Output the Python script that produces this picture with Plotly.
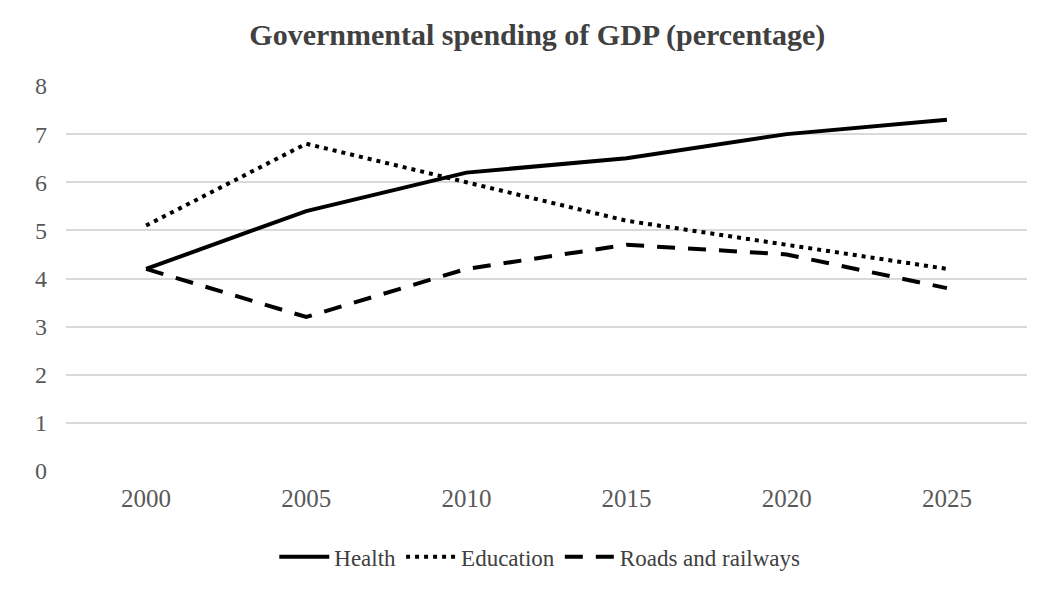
import plotly.graph_objects as go

years = ["2000", "2005", "2010", "2015", "2020", "2025"]
health = [4.2, 5.4, 6.2, 6.5, 7.0, 7.3]
education = [5.1, 6.8, 6.0, 5.2, 4.7, 4.2]
roads = [4.2, 3.2, 4.2, 4.7, 4.5, 3.8]

FONT = "Liberation Serif"

fig = go.Figure()
fig.add_trace(go.Scatter(x=years, y=health, mode="lines", name="Health",
                         line=dict(color="black", width=4)))
fig.add_trace(go.Scatter(x=years, y=education, mode="lines", name="Education",
                         line=dict(color="black", width=4, dash="4px,5px")))
fig.add_trace(go.Scatter(x=years, y=roads, mode="lines", name="Roads and railways",
                         line=dict(color="black", width=4, dash="18px,13px")))

fig.update_layout(
    width=1042, height=595,
    paper_bgcolor="white", plot_bgcolor="white",
    margin=dict(l=58, r=23, t=78, b=132),
    title=dict(text="<b>Governmental spending of GDP (percentage)</b>",
               x=0.508, xref="container", xanchor="center",
               y=0.955, yref="container", yanchor="middle",
               font=dict(family=FONT, size=30, color="#404040")),
    font=dict(family=FONT, size=24, color="#595959"),
    showlegend=True,
    legend=dict(orientation="h", x=0.493, xanchor="center", y=-0.223, yanchor="middle",
                font=dict(family=FONT, size=23, color="#404040"),
                itemwidth=50, traceorder="normal"),
    xaxis=dict(type="category", range=[-0.5, 5.5], showgrid=False, showline=False,
               zeroline=False, ticks="", ticklabelstandoff=10,
               tickfont=dict(family=FONT, size=25, color="#595959")),
    yaxis=dict(range=[0, 8], dtick=1, showgrid=True, gridcolor="#d9d9d9", gridwidth=1.5,
               zeroline=False, showline=False, ticks="", ticklabelstandoff=18,
               tickfont=dict(family=FONT, size=24, color="#595959")),
)

fig.write_html("out.html")
